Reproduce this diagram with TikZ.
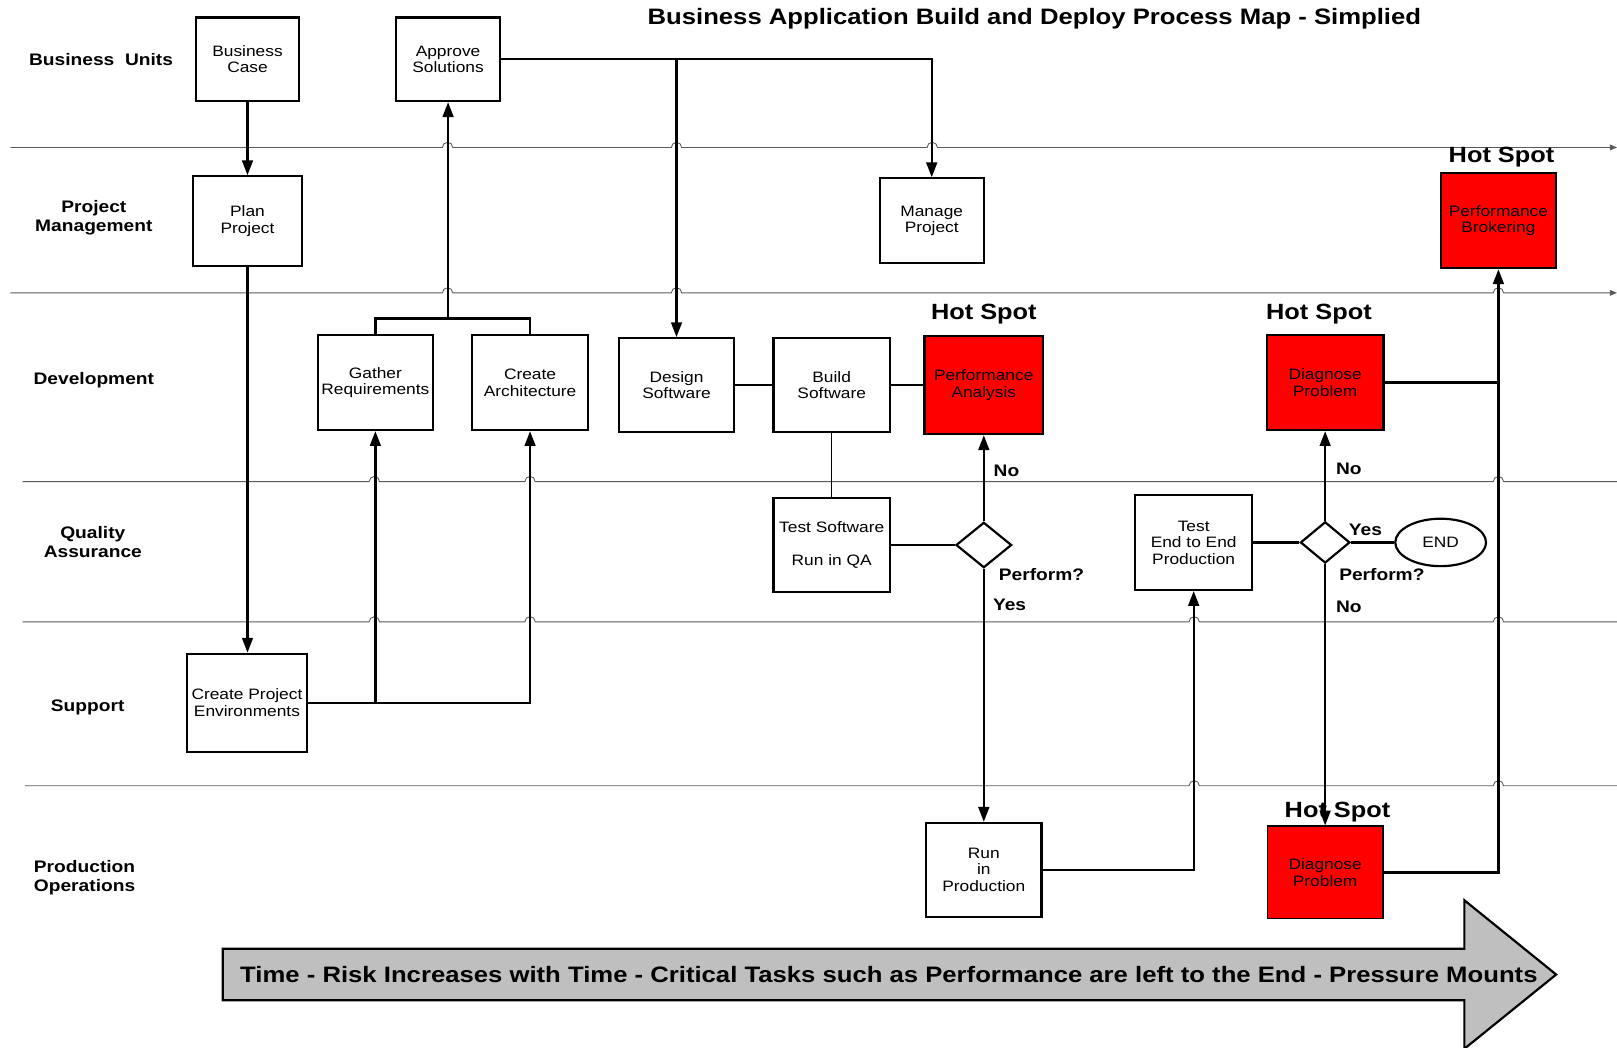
\documentclass[tikz,border=0pt]{standalone}
\usepackage{fontspec}
\setmainfont[FakeStretch=1.15]{Liberation Sans}
\usetikzlibrary{shapes.geometric, arrows.meta, positioning}

\tikzset{
  task/.style={draw, line width=1.5pt, fill=white, align=center, inner sep=1pt,
    minimum width=2.8cm, minimum height=2.3cm, font=\fontsize{10.4}{11.4}\selectfont},
  hot/.style={task, fill=red},
  decision/.style={diamond, draw, line width=1.5pt, fill=white, inner sep=0pt,
    minimum width=1.35cm, minimum height=1.1cm},
  lane/.style={draw=black!65, line width=0.6pt},
  lanelbl/.style={font=\bfseries\fontsize{11.5}{13}\selectfont, align=center},
  hotlbl/.style={font=\bfseries\fontsize{15.2}{16}\selectfont},
  answer/.style={font=\bfseries\fontsize{11.5}{12}\selectfont},
  flow/.style={line width=1.6pt},
  arr/.style={flow, -{Triangle[length=0.36cm,width=0.26cm]}}
}

\begin{document}
\begin{tikzpicture}[x=0.025cm, y=-0.025cm]
    \useasboundingbox (0,0) rectangle (1568,1016);
    % Title
    \node[font=\bfseries\fontsize{15.4}{16}\selectfont] (title) at (1003,18) {Business Application Build and Deploy Process Map - Simplied};

    % Swim lane separators, with hops where connectors cross
    \draw[lane, -{Triangle[length=5pt,width=4pt]}] (10,143) \foreach \h in {434,656,904} { -- (\h-5,143) arc[start angle=180,end angle=0,radius=0.125cm] } -- (1568,143);
    \draw[lane, -{Triangle[length=5pt,width=4pt]}] (10,284) \foreach \h in {434,656,1453} { -- (\h-5,284) arc[start angle=180,end angle=0,radius=0.125cm] } -- (1568,284);
    \draw[lane] (22,467) \foreach \h in {363,514,1453} { -- (\h-5,467) arc[start angle=180,end angle=0,radius=0.125cm] } -- (1568,467);
    \draw[lane] (22,603) \foreach \h in {363,514,1158,1453} { -- (\h-5,603) arc[start angle=180,end angle=0,radius=0.125cm] } -- (1568,603);
    \draw[lane] (24,762) \foreach \h in {1158,1453} { -- (\h-5,762) arc[start angle=180,end angle=0,radius=0.125cm] } -- (1568,762);

    % Lane names
    \node[lanelbl] (bu) at (98,58) {Business~~Units};
    \node[lanelbl] (pm) at (91,211) {Project\\Management};
    \node[lanelbl] (dev) at (91,369) {Development};
    \node[lanelbl] (qual) at (90,526) {Quality\\Assurance};
    \node[lanelbl] (sup) at (85,686) {Support};
    \node[lanelbl, align=left] (ops) at (82,851) {Production\\Operations};

    % Tasks
    \node[task, minimum width=2.5cm, minimum height=2.025cm] (bc) at (240,57.5) {Business\\Case};
    \node[task, minimum width=2.525cm, minimum height=2.025cm] (as) at (434.5,57.5) {Approve\\Solutions};
    \node[task, minimum width=2.65cm, minimum height=2.175cm] (pp) at (240,214.5) {Plan\\Project};
    \node[task, minimum width=2.525cm, minimum height=2.05cm] (mp) at (903.5,214) {Manage\\Project};
    \node[hot] (pb) at (1453,214) {Performance\\Brokering};
    \node[task] (gr) at (364,371) {Gather\\Requirements};
    \node[task] (ca) at (514,371) {Create\\Architecture};
    \node[task, minimum height=2.275cm] (ds) at (656,373.5) {Design\\Software};
    \node[task, minimum width=2.825cm, minimum height=2.275cm] (bs) at (806.5,373.5) {Build\\Software};
    \node[hot, minimum width=2.875cm, minimum height=2.375cm] (pa) at (954,373.5) {Performance\\Analysis};
    \node[hot, minimum width=2.825cm] (dpd) at (1285,371) {Diagnose\\Problem};
    \node[task, minimum width=2.825cm, minimum height=2.275cm] (ts) at (806.5,528.5) {Test Software\\[\baselineskip]Run in QA};
    \node[decision] (qa) at (954,528.5) {};
    \node[task, minimum width=2.825cm] (te) at (1157.5,526) {Test\\End to End\\Production};
    \node[decision, minimum width=1.2cm, minimum height=1cm] (chk) at (1285,526) {};
    \node[ellipse, draw, line width=1.5pt, minimum width=2.2cm, minimum height=1.15cm, font=\fontsize{10.4}{11.4}\selectfont] (end) at (1397,526) {END};
    \node[task, minimum width=2.925cm, minimum height=2.375cm] (cpe) at (239.5,681.5) {Create Project\\Environments};
    \node[task, minimum height=2.275cm] (rp) at (954,843.5) {Run\\in\\Production};
    \node[hot, minimum height=2.25cm, line width=0.8pt] (dpp) at (1285,846) {Diagnose\\Problem};

    % Hot spots
    \node[hotlbl] (hs1) at (954,305) {Hot Spot};
    \node[hotlbl] (hs2) at (1279,305) {Hot Spot};
    \node[hotlbl] (hs3) at (1456,152) {Hot Spot};
    \node[hotlbl] (hs4) at (1297,787) {Hot Spot};

    % Connectors
    \draw[arr] (bc) -- (pp);
    \draw[arr] (pp.south) -- (pp.south |- cpe.north);
    \draw[arr] (cpe.east) -| (ca.south);
    \draw[arr] (cpe.east -| gr.south) -- (gr.south);
    \coordinate (split) at (434.5,309);
    \draw[flow] (gr.north) |- (split) -| (ca.north);
    \draw[arr] (split) -- (as.south);
    \draw[arr] (as.east) -| (mp.north);
    \draw[arr] (as.east -| ds.north) -- (ds.north);
    \draw[flow] (ds) -- (bs);
    \draw[flow] (bs) -- (pa);
    \draw[line width=0.8pt] (bs) -- (ts);
    \draw[flow] (ts) -- (qa);
    \draw[arr] (qa.north) -- (qa.north |- pa.south);
    \draw[arr] (qa.south) -- (qa.south |- rp.north);
    \draw[arr] (rp.east) -| (te.south);
    \draw[flow] (te) -- (chk);
    \draw[flow] (chk) -- (end);
    \draw[arr] (chk.north) -- (chk.north |- dpd.south);
    \draw[arr] (chk.south) -- (chk.south |- dpp.north);
    \draw[flow] (dpd.east) -- (dpd.east -| pb.south);
    \draw[arr] (dpp.east) -| (pb.south);

    % Decision answers
    \node[answer] (no1) at (976,457) {No};
    \node[answer] (pf1) at (1010,557) {Perform?};
    \node[answer] (yes1) at (979,587) {Yes};
    \node[answer] (no2) at (1308,455) {No};
    \node[answer] (yes2) at (1324,514) {Yes};
    \node[answer] (pf2) at (1340,557) {Perform?};
    \node[answer] (no3) at (1308,588) {No};

    % Time arrow
    \draw[line width=1.5pt, fill=black!25] (216,920) -- (1420,920) -- (1420,873) -- (1509,945) -- (1420,1017) -- (1420,970) -- (216,970) -- cycle;
    \node[font=\bfseries\fontsize{15.4}{16}\selectfont] (time) at (862,945) {Time - Risk Increases with Time - Critical Tasks such as Performance are left to the End - Pressure Mounts};
\end{tikzpicture}
\end{document}
